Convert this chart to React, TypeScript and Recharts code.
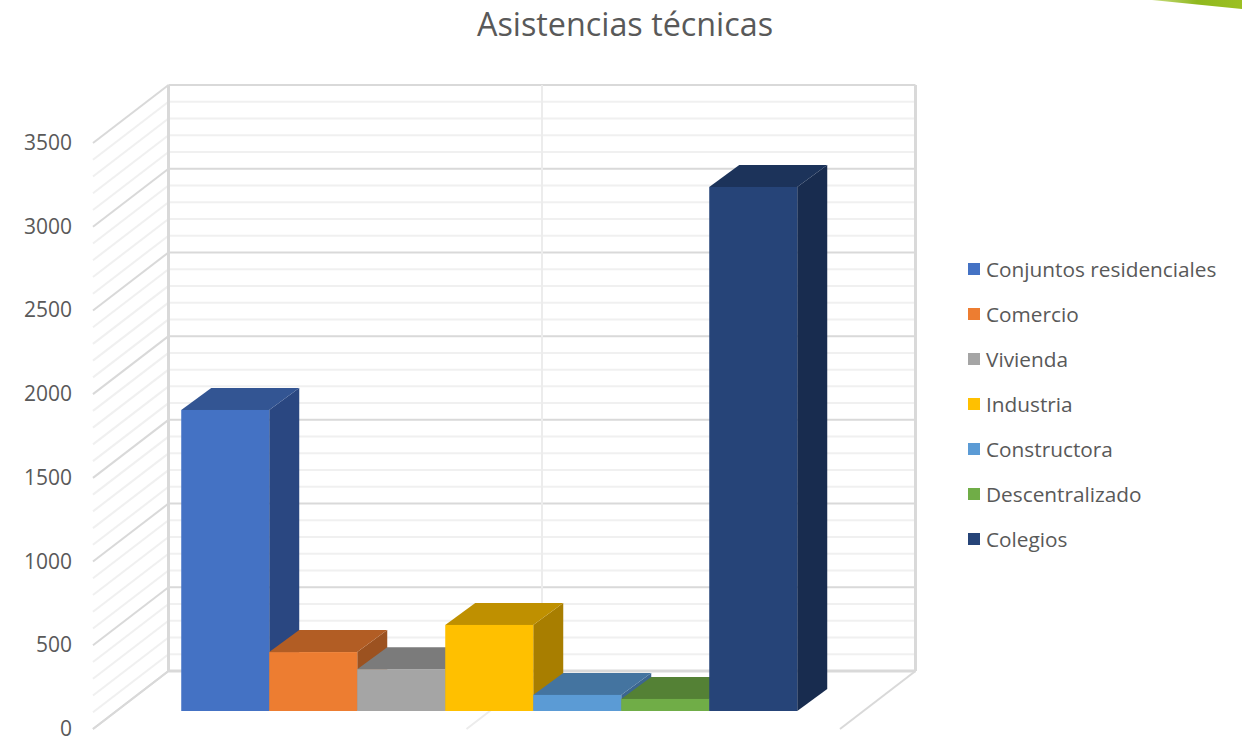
import { Bar, BarChart, Legend, ReferenceLine, XAxis, YAxis } from "recharts";

const seriesNames = [
  "Conjuntos residenciales",
  "Comercio",
  "Vivienda",
  "Industria",
  "Constructora",
  "Descentralizado",
  "Colegios",
];
const seriesValues = [1798, 352, 250, 514, 96, 72, 3130];
const faceColors = ["#4472c4", "#ed7d31", "#a5a5a5", "#ffc000", "#5b9bd5", "#70ad47", "#264478"];
const topColors = ["#335593", "#b25d24", "#7b7b7b", "#bf9000", "#4474a0", "#548135", "#1c335a"];
const sideColors = ["#2a4781", "#9c5220", "#6c6c6c", "#a87e00", "#3c6690", "#4a722f", "#182c4f"];
const yTicks = [0, 500, 1000, 1500, 2000, 2500, 3000, 3500];
const minorTicks = [
  100, 200, 300, 400, 600, 700, 800, 900, 1100, 1200, 1300, 1400, 1600, 1700, 1800, 1900, 2100,
  2200, 2300, 2400, 2600, 2700, 2800, 2900, 3100, 3200, 3300, 3400,
];

const row: Record<string, string | number> = { name: "Asistencias" };
seriesNames.forEach((n, i) => {
  row[n] = seriesValues[i];
});
const data = [row];

const CHART_W = 1242;
const CHART_H = 740;
const MARGIN = { top: 125, right: 378, bottom: 29, left: 0 };
const PLOT_H = CHART_H - MARGIN.top - MARGIN.bottom;

// 3d projection, relative to the plane the bars stand on
const BAR_DX = 30;
const BAR_DY = 22;
const BACK_DX = 51.5;
const BACK_DY = 40;
const FRONT_DX = 24;
const FRONT_DY = 18;

const MAJOR = "#d9d9d9";
const MINOR = "#f0f0f0";

function Box3d(props: any) {
  const { x, y, width, height, seriesIndex: i } = props;
  const r = x + width;
  const b = y + height;
  return (
    <g>
      <polygon
        points={`${r},${y} ${r + BAR_DX},${y - BAR_DY} ${r + BAR_DX},${b - BAR_DY} ${r},${b}`}
        fill={sideColors[i]}
      />
      <polygon
        points={`${x},${y} ${x + BAR_DX},${y - BAR_DY} ${r + BAR_DX},${y - BAR_DY} ${r},${y}`}
        fill={topColors[i]}
      />
      <rect x={x} y={y} width={width} height={height} fill={faceColors[i]} />
    </g>
  );
}

function WallLine(props: any, color: string) {
  const { x1, y1, x2, y2 } = props;
  return (
    <g>
      <line
        x1={x1 - FRONT_DX}
        y1={y1 + FRONT_DY}
        x2={x1 + BACK_DX}
        y2={y1 - BACK_DY}
        stroke={color}
        strokeWidth={2}
      />
      <line
        x1={x1 + BACK_DX}
        y1={y1 - BACK_DY}
        x2={x2 + BACK_DX}
        y2={y2 - BACK_DY}
        stroke={color}
        strokeWidth={2}
      />
    </g>
  );
}

// back wall uprights and floor diagonals, hung on the zero line
function FloorLines(props: any) {
  const { x1, y1, x2 } = props;
  const mid = (x1 + x2) / 2;
  const bottom = y1 - BACK_DY;
  return (
    <g>
      {[x1, mid, x2].map((x) => {
        const color = x === mid ? "#ececec" : MAJOR;
        return (
          <g key={x}>
            <line
              x1={x + BACK_DX}
              y1={bottom - PLOT_H}
              x2={x + BACK_DX}
              y2={bottom}
              stroke={color}
              strokeWidth={x === mid ? 2 : 3}
            />
            <line
              x1={x + BACK_DX}
              y1={bottom}
              x2={x - FRONT_DX}
              y2={y1 + FRONT_DY}
              stroke={color}
              strokeWidth={2}
            />
          </g>
        );
      })}
      <line x1={x1 + BACK_DX} y1={bottom} x2={x2 + BACK_DX} y2={bottom} stroke={MAJOR} strokeWidth={3} />
    </g>
  );
}

function YTick({ x, y, payload }: any) {
  return (
    <text x={x} y={y + FRONT_DY} dy={7} textAnchor="end" fill="#595959" fontSize={21}>
      {payload.value}
    </text>
  );
}

function LegendList({ payload }: any) {
  return (
    <div>
      {(payload ?? []).map((p: any) => (
        <div key={p.value} style={{ display: "flex", alignItems: "center", height: 45 }}>
          <span
            style={{ width: 12, height: 12, marginRight: 6, background: p.color, flex: "none" }}
          />
          <span style={{ color: "#595959", fontSize: 20.8, whiteSpace: "nowrap" }}>{p.value}</span>
        </div>
      ))}
    </div>
  );
}

export default function App() {
  return (
    <div
      style={{
        position: "absolute",
        left: 0,
        top: 0,
        width: CHART_W,
        height: CHART_H,
        overflow: "hidden",
        background: "#fff",
        fontFamily: "'Open Sans', sans-serif",
      }}
    >
      <svg width={CHART_W} height={CHART_H} style={{ position: "absolute", left: 0, top: 0 }}>
        <defs>
          <linearGradient id="corner" x1="0" x2="1" y1="0" y2="0">
            <stop offset="0" stopColor="#c9dc80" />
            <stop offset="0.5" stopColor="#8fb81e" />
            <stop offset="1" stopColor="#9cc022" />
          </linearGradient>
        </defs>
        <polygon points="1152,0 1242,0 1242,9" fill="url(#corner)" />
      </svg>
      <div
        style={{
          position: "absolute",
          left: 0,
          width: 1250,
          top: 1,
          textAlign: "center",
          color: "#595959",
          fontSize: 32.3,
          lineHeight: "44px",
        }}
      >
        Asistencias técnicas
      </div>
      <div style={{ position: "absolute", left: 0, top: 0 }}>
        <BarChart
          width={CHART_W}
          height={CHART_H}
          data={data}
          margin={MARGIN}
          barCategoryGap="8.6%"
          barGap={0}
        >
          <XAxis dataKey="name" hide />
          <YAxis
            width={117}
            domain={[0, 3500]}
            ticks={yTicks}
            axisLine={false}
            tickLine={false}
            tickMargin={39}
            tick={YTick}
          />
          {minorTicks.map((v) => (
            <ReferenceLine key={v} y={v} zIndex={-10} shape={(p: any) => WallLine(p, MINOR)} />
          ))}
          {yTicks.map((v) => (
            <ReferenceLine key={v} y={v} zIndex={-9} shape={(p: any) => WallLine(p, MAJOR)} />
          ))}
          <ReferenceLine y={0} zIndex={-8} shape={FloorLines} />
          {seriesNames.map((n, i) => (
            <Bar
              key={n}
              dataKey={n}
              isAnimationActive={false}
              fill={faceColors[i]}
              shape={(p: any) => <Box3d {...p} seriesIndex={i} />}
            />
          ))}
          <Legend
            layout="vertical"
            align="center"
            verticalAlign="middle"
            itemSorter={null}
            content={LegendList}
            wrapperStyle={{ left: 968, top: 246, width: 270 }}
          />
        </BarChart>
      </div>
    </div>
  );
}
